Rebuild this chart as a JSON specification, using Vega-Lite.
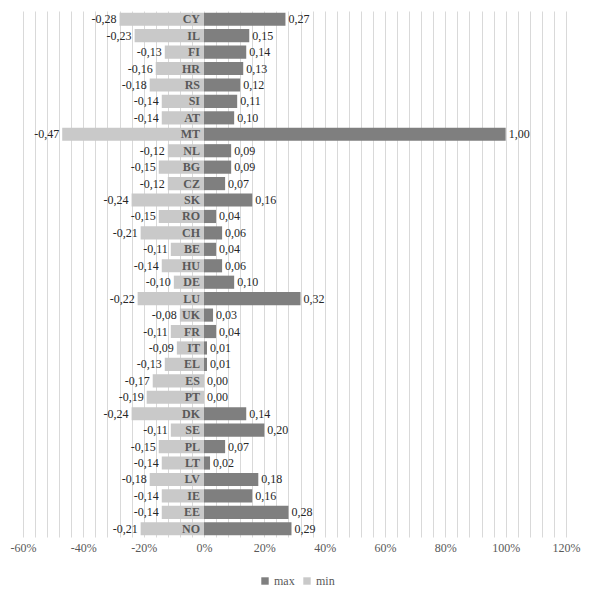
{
  "$schema": "https://vega.github.io/schema/vega-lite/v6.json",
  "width": 543,
  "height": 526,
  "autosize": {"type": "none"},
  "padding": {"left": 23, "top": 11, "right": 27, "bottom": 55},
  "config": {
    "locale": {
      "number": {"decimal": ",", "thousands": ".", "grouping": [3], "currency": ["", " €"], "minus": "-"}
    },
    "view": {"stroke": null},
    "font": "Liberation Serif",
    "text": {"font": "Liberation Serif"},
    "background": "white"
  },
  "data": {
    "values": [
      {"country": "CY", "max": 0.27, "min": -0.28},
      {"country": "IL", "max": 0.15, "min": -0.23},
      {"country": "FI", "max": 0.14, "min": -0.13},
      {"country": "HR", "max": 0.13, "min": -0.16},
      {"country": "RS", "max": 0.12, "min": -0.18},
      {"country": "SI", "max": 0.11, "min": -0.14},
      {"country": "AT", "max": 0.10, "min": -0.14},
      {"country": "MT", "max": 1.00, "min": -0.47},
      {"country": "NL", "max": 0.09, "min": -0.12},
      {"country": "BG", "max": 0.09, "min": -0.15},
      {"country": "CZ", "max": 0.07, "min": -0.12},
      {"country": "SK", "max": 0.16, "min": -0.24},
      {"country": "RO", "max": 0.04, "min": -0.15},
      {"country": "CH", "max": 0.06, "min": -0.21},
      {"country": "BE", "max": 0.04, "min": -0.11},
      {"country": "HU", "max": 0.06, "min": -0.14},
      {"country": "DE", "max": 0.10, "min": -0.10},
      {"country": "LU", "max": 0.32, "min": -0.22},
      {"country": "UK", "max": 0.03, "min": -0.08},
      {"country": "FR", "max": 0.04, "min": -0.11},
      {"country": "IT", "max": 0.01, "min": -0.09},
      {"country": "EL", "max": 0.01, "min": -0.13},
      {"country": "ES", "max": 0.00, "min": -0.17},
      {"country": "PT", "max": 0.00, "min": -0.19},
      {"country": "DK", "max": 0.14, "min": -0.24},
      {"country": "SE", "max": 0.20, "min": -0.11},
      {"country": "PL", "max": 0.07, "min": -0.15},
      {"country": "LT", "max": 0.02, "min": -0.14},
      {"country": "LV", "max": 0.18, "min": -0.18},
      {"country": "IE", "max": 0.16, "min": -0.14},
      {"country": "EE", "max": 0.28, "min": -0.14},
      {"country": "NO", "max": 0.29, "min": -0.21}
    ]
  },
  "transform": [{"fold": ["max", "min"], "as": ["series", "value"]}],
  "encoding": {
    "y": {
      "field": "country",
      "type": "nominal",
      "sort": null,
      "axis": null,
      "scale": {"paddingInner": 0.2, "paddingOuter": 0.1}
    }
  },
  "layer": [
    {
      "mark": {"type": "bar"},
      "encoding": {
        "x": {
          "field": "value",
          "type": "quantitative",
          "scale": {"domain": [-0.6, 1.2], "nice": false, "zero": false},
          "axis": {
            "values": [-0.6, -0.56, -0.52, -0.48, -0.44, -0.4, -0.36, -0.32, -0.28, -0.24, -0.2, -0.16, -0.12, -0.08, -0.04, 0, 0.04, 0.08, 0.12, 0.16, 0.2, 0.24, 0.28, 0.32, 0.36, 0.4, 0.44, 0.48, 0.52, 0.56, 0.6, 0.64, 0.68, 0.72, 0.76, 0.8, 0.84, 0.88, 0.92, 0.96, 1, 1.04, 1.08, 1.12, 1.16, 1.2],
            "tickCount": 200,
            "labelExpr": "abs(round(datum.value * 100)) % 20 == 0 ? format(datum.value, '.0%') : ''",
            "labelOverlap": false,
            "labelFlush": false,
            "grid": true,
            "gridColor": "#d9d9d9",
            "ticks": false,
            "domain": false,
            "title": null,
            "labelColor": "#595959",
            "labelFont": "Liberation Serif",
            "labelFontSize": 12,
            "labelPadding": 5
          }
        },
        "color": {
          "field": "series",
          "type": "nominal",
          "scale": {"domain": ["max", "min"], "range": ["#7f7f7f", "#c9c9c9"]},
          "legend": {
            "orient": "none",
            "legendX": 236,
            "legendY": 564,
            "direction": "horizontal",
            "title": null,
            "symbolType": "square",
            "symbolSize": 55,
            "symbolStrokeWidth": 0,
            "labelFont": "Liberation Serif",
            "labelFontSize": 12,
            "labelColor": "#595959",
            "columnPadding": 6,
            "labelOffset": 3
          }
        }
      }
    },
    {
      "transform": [{"filter": "datum.series == 'max'"}],
      "mark": {"type": "text", "align": "left", "dx": 3, "fontSize": 12, "color": "#262626"},
      "encoding": {
        "x": {"field": "value", "type": "quantitative"},
        "text": {"field": "value", "type": "quantitative", "format": ".2f"}
      }
    },
    {
      "transform": [{"filter": "datum.series == 'min'"}],
      "mark": {"type": "text", "align": "right", "dx": -3, "fontSize": 12, "color": "#262626"},
      "encoding": {
        "x": {"field": "value", "type": "quantitative"},
        "text": {"field": "value", "type": "quantitative", "format": ".2f"}
      }
    },
    {
      "transform": [{"filter": "datum.series == 'min'"}],
      "mark": {"type": "text", "align": "right", "dx": -4, "fontSize": 12, "fontWeight": "bold", "color": "#595959"},
      "encoding": {
        "x": {"datum": 0},
        "text": {"field": "country"}
      }
    }
  ]
}
